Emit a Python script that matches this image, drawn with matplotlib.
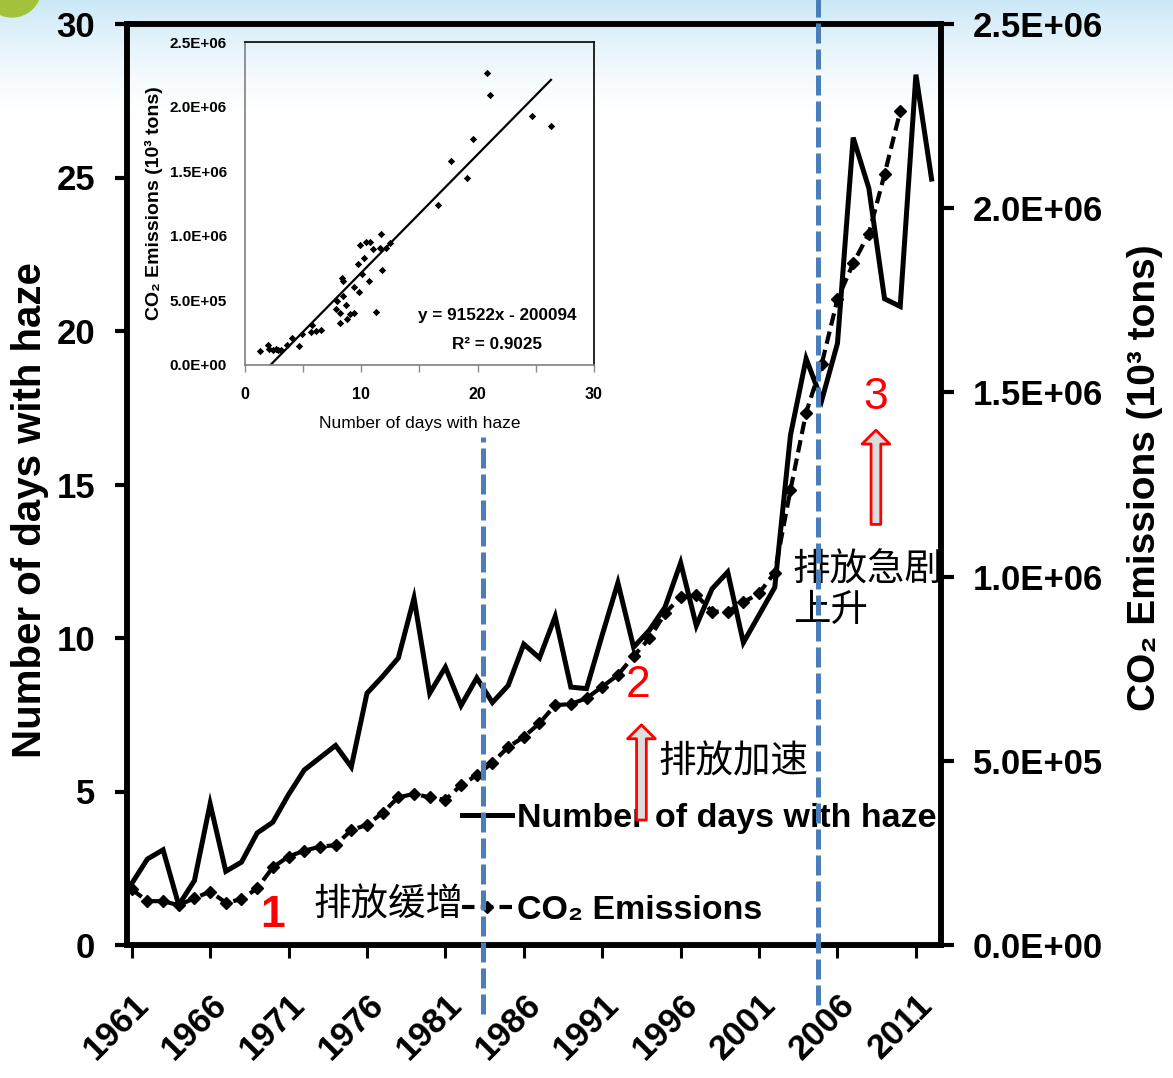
import numpy as np
import matplotlib.pyplot as plt
from matplotlib.lines import Line2D
from matplotlib.patches import Ellipse
from matplotlib.ticker import FuncFormatter, MultipleLocator

# haze days per year, 1961-2012
years = np.arange(1961, 2013)
haze_days = [2.0, 2.8, 3.1, 1.3, 2.1, 4.6, 2.4, 2.7, 3.65, 4.0,
             4.9, 5.7, 6.1, 6.5, 5.8, 8.2, 8.75, 9.35, 11.3, 8.2,
             9.05, 7.8, 8.7, 7.9, 8.45, 9.8, 9.35, 10.7, 8.4, 8.35,
             10.1, 11.8, 9.7, 10.25, 11.0, 12.45, 10.4, 11.6, 12.15, 9.85,
             10.75, 11.65, 16.6, 19.1, 17.75, 19.6, 26.3, 24.65, 21.05, 20.8,
             28.35, 24.95]

# CO2 emissions (10^3 tons), 1961-2010
co2_years = np.arange(1961, 2011)
co2_emissions = np.array([151, 119, 119, 108, 127, 145, 115, 124, 154, 211,
                          240, 256, 267, 271, 312, 326, 359, 401, 410, 401,
                          394, 434, 461, 495, 537, 565, 602, 651, 654, 670,
                          701, 733, 784, 832, 900, 945, 950, 905, 905, 930,
                          955, 1011, 1235, 1445, 1578, 1753, 1850, 1931, 2092, 2263]) * 1000

# regression shown in the inset
fit_slope = 91522
fit_intercept = -200094
r_squared = 0.9025

x_tick_years = [1961, 1966, 1971, 1976, 1981, 1986, 1991, 1996, 2001, 2006, 2011]
stage_breaks = [1983.4, 2004.75]

SANS = ['Liberation Sans', 'DejaVu Sans']
CJK = ['Noto Sans CJK SC', 'DejaVu Sans']

plt.rcParams['font.family'] = SANS
plt.rcParams['font.weight'] = 'bold'

W, H = 1173, 1078
fig = plt.figure(figsize=(W / 100, H / 100), dpi=100)

# light sky background at the top of the slide
bg = fig.add_axes([0, 0, 1, 1], zorder=-10)
bg.axis('off')
rows = np.arange(H)[:, None, None]
a = np.clip(1 - rows / 120.0, 0, 1) ** 1.5
sky = np.array([0.80, 0.91, 0.97])
img = (1 - a) * np.ones(3) + a * sky
bg.imshow(img, aspect='auto', extent=[0, 1, 0, 1])
bg.add_patch(Ellipse((12 / W, 1 + 12 / H), 58 / W, 58 / H, color='#a3c23c'))

# main chart
ax = fig.add_axes([127 / W, 1 - 945 / H, (941 - 127) / W, (945 - 24) / H])
ax.patch.set_alpha(0)
ax2 = ax.twinx()

ax.plot(years, haze_days, color='black', lw=3.6, solid_joinstyle='miter')
ax2.plot(co2_years, co2_emissions, color='black', lw=3, ls=(0, (3, 1.5)),
         marker='D', ms=6.5)

ax.set_xlim(1960.7, 2012.6)
ax.set_ylim(0, 30)
ax2.set_ylim(0, 2.5e6)
ax.set_yticks(np.arange(0, 31, 5))
ax2.set_yticks(np.arange(0, 2.51e6, 5e5))
ax2.yaxis.set_major_formatter(FuncFormatter(lambda v, p: f'{v:.1E}'))
ax.set_xticks(x_tick_years)
ax.set_xticklabels(x_tick_years, rotation=45, ha='right', rotation_mode='anchor')

ax.tick_params(axis='y', direction='out', length=9, width=3, pad=14, labelsize=25)
ax.tick_params(axis='x', direction='out', length=9, width=2.2, pad=22, labelsize=25)
ax2.tick_params(axis='y', direction='out', length=9, width=3, pad=14, labelsize=25)
for a_ in (ax, ax2):
    for s in a_.spines.values():
        s.set_linewidth(4)

ax.set_ylabel('Number of days with haze', size=29, weight='bold')
ax.yaxis.set_label_coords(-0.096, 0.472)
ax2.set_ylabel('CO₂ Emissions (10³ tons)', size=28, weight='bold')
ax2.yaxis.set_label_coords(1.229, 0.507)

# stage annotations
red_kw = dict(color='red', size=32, ha='center', va='center',
              transform=ax.transData, zorder=7)
ax2.text(1970.0, 0.95, '1', weight='bold', **red_kw)
ax2.text(1993.3, 8.44, '2', weight='normal', **red_kw)
ax2.text(2008.45, 17.85, '3', weight='normal', **red_kw)

cjk_kw = dict(size=27, weight='normal', family=CJK, ha='left', va='center',
              transform=ax.transData, zorder=7)
ax2.text(1972.6, 1.3, '排放缓增', **cjk_kw)
ax2.text(1994.55, 5.96, '排放加速', **cjk_kw)
ax2.text(2003.15, 12.21, '排放急剧', **cjk_kw)
ax2.text(2003.15, 10.91, '上升', **cjk_kw)

arrow_kw = dict(arrowstyle='simple,head_length=0.5,head_width=1.0,tail_width=0.35',
                fc='#dddddd', ec='red', lw=2, shrinkA=0, shrinkB=0, mutation_scale=20)
ax2.annotate('', xy=(1993.5, 7.17), xytext=(1993.5, 4.07), xycoords=ax.transData,
             textcoords=ax.transData, arrowprops=arrow_kw, zorder=8)
ax2.annotate('', xy=(2008.45, 16.77), xytext=(2008.45, 13.7), xycoords=ax.transData,
             textcoords=ax.transData, arrowprops=arrow_kw, zorder=8)

handles = [Line2D([], [], color='black', lw=3.6),
           Line2D([], [], color='black', lw=3, ls=(0, (3, 1.5)), marker='D', ms=6.5)]
leg = ax2.legend(handles, ['Number of days with haze', 'CO₂ Emissions'],
                 loc='upper left', bbox_to_anchor=(462 / W, 1 - 803 / H),
                 bbox_transform=fig.transFigure, frameon=False,
                 prop=dict(weight='bold', size=24.5),
                 handlelength=1.47, handletextpad=0.15, labelspacing=1.8,
                 borderpad=0, borderaxespad=0, numpoints=1)
leg.set_zorder(5)

# blue dashed stage dividers
for xb, (y0, y1) in zip(stage_breaks, [(-2.25, 16.55), (-1.95, 30.8)]):
    fig.add_artist(Line2D([xb, xb], [y0, y1], transform=ax.transData,
                          color='#4a7ebb', lw=3.6, ls=(0, (4, 1.2)), zorder=10))

# inset scatter
axi = fig.add_axes([245 / W, 1 - 365 / H, 349 / W, 323 / H])
axi.patch.set_alpha(0)
pair_haze = np.array(haze_days[:len(co2_emissions)])
axi.scatter(pair_haze, co2_emissions, marker='D', s=14, color='black', lw=0)
xs = np.array([pair_haze.min(), pair_haze.max()])
axi.plot(xs, fit_slope * xs + fit_intercept, color='black', lw=1.6)
axi.set_xlim(0, 30)
axi.set_ylim(0, 2.5e6)
axi.set_xticks([0, 10, 20, 30])
axi.xaxis.set_minor_locator(MultipleLocator(5))
axi.set_yticks(np.arange(0, 2.51e6, 5e5))
axi.yaxis.set_major_formatter(FuncFormatter(lambda v, p: f'{v:.1E}'))
axi.tick_params(axis='x', which='both', direction='out', length=5, width=1,
                color='#888888', labelsize=11.5, pad=11)
axi.tick_params(axis='y', length=0, labelsize=11, pad=13)
for side, s in axi.spines.items():
    s.set_linewidth(1.2)
    s.set_color('black' if side in ('top', 'right') else '#808080')
axi.set_xlabel('Number of days with haze', size=12.5)
axi.xaxis.set_label_coords(0.5, -0.158)
axi.set_ylabel('CO₂ Emissions (10³ tons)', size=14, weight='bold')
axi.yaxis.set_label_coords(-0.235, 0.5)
axi.text(0.722, 0.152, f'y = {fit_slope}x - {-fit_intercept}', transform=axi.transAxes,
         size=12.3, ha='center', va='center')
axi.text(0.722, 0.062, f'R² = {r_squared}', transform=axi.transAxes,
         size=12.3, ha='center', va='center')

fig.savefig('out.png', dpi=100)
